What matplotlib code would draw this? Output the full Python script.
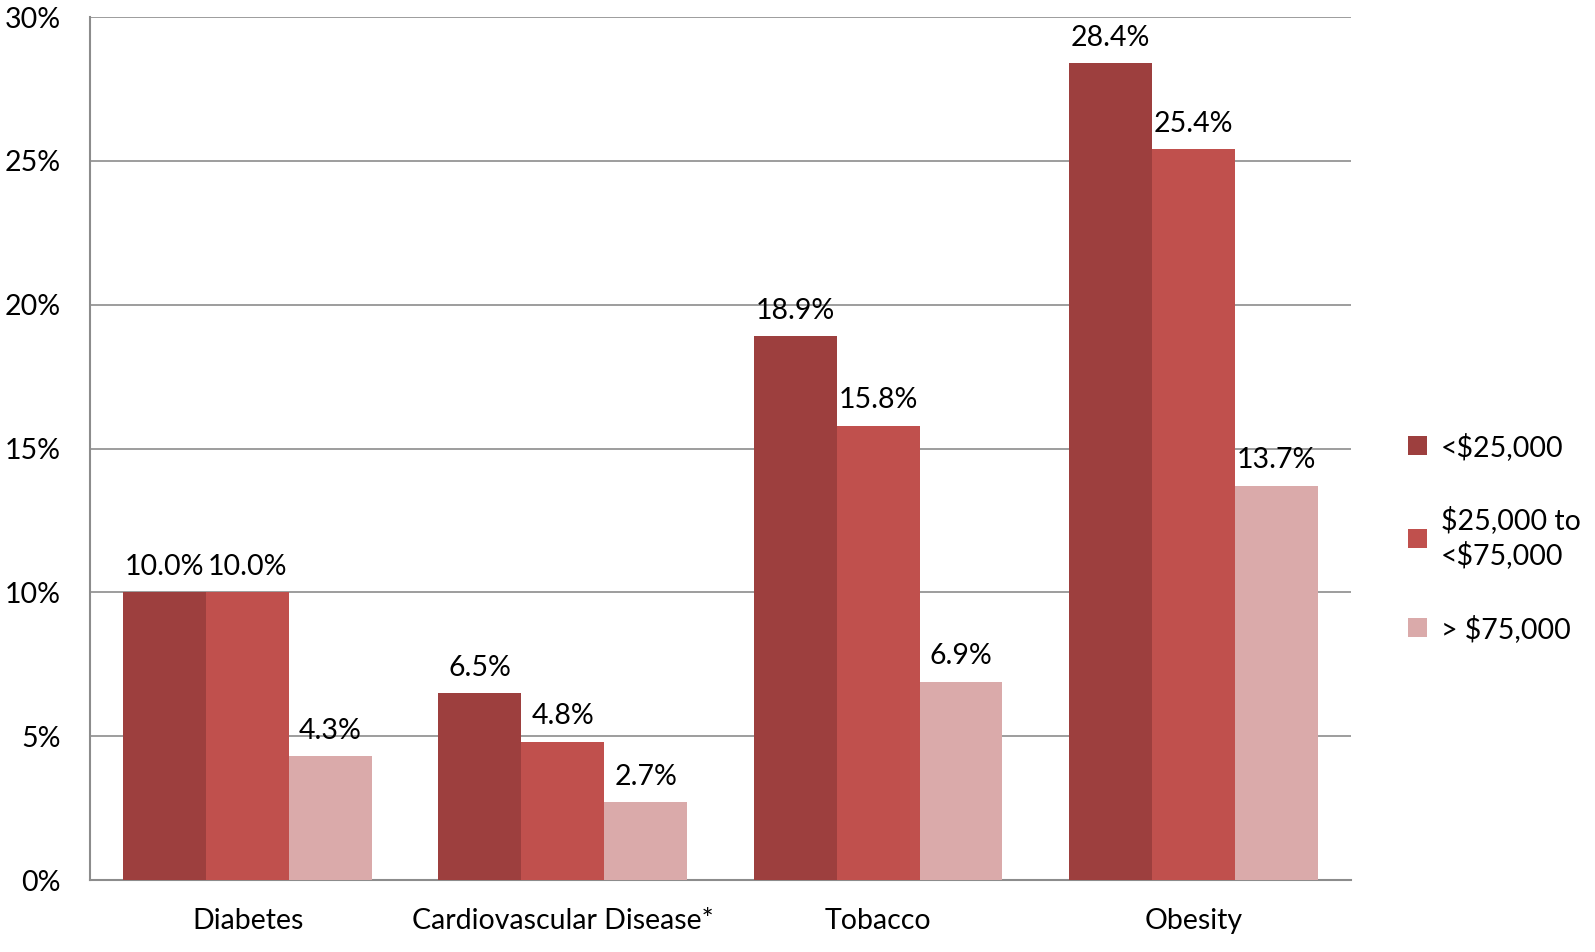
import matplotlib.pyplot as plt
import numpy as np

plt.rcParams['font.family'] = ['Lato', 'DejaVu Sans']

categories = ['Diabetes', 'Cardiovascular Disease*', 'Tobacco', 'Obesity']
series_names = ['<$25,000', '$25,000 to\n<$75,000', '> $75,000']
low_income = [10.0, 6.5, 18.9, 28.4]
mid_income = [10.0, 4.8, 15.8, 25.4]
high_income = [4.3, 2.7, 6.9, 13.7]
colors = ['#9D3F3E', '#C0504D', '#DAAAAA']

fs = 20.5

fig = plt.figure(figsize=(15.95, 9.52), dpi=100)
ax = fig.add_axes([0.0564, 0.0756, 0.7906, 0.9064])

x = np.arange(len(categories))
width = 0.263
for i, (vals, name) in enumerate(zip([low_income, mid_income, high_income], series_names)):
    bars = ax.bar(x + (i - 1) * width, vals, width, color=colors[i], label=name, zorder=3)
    ax.bar_label(bars, labels=[f'{v:.1f}%' for v in vals], padding=9, fontsize=fs)

ax.set_xlim(-0.5, len(categories) - 0.5)
ax.set_ylim(0, 30)
ax.set_yticks(range(0, 31, 5))
ax.set_yticklabels([f'{t}%' for t in range(0, 31, 5)])
ax.set_xticks(x)
ax.set_xticklabels(categories)
ax.tick_params(axis='both', length=0, labelsize=fs)
ax.tick_params(axis='x', pad=20)
ax.tick_params(axis='y', pad=21)

ax.grid(axis='y', color='#8C8C8C', linewidth=1.2, zorder=0)
for s in ['top', 'right']:
    ax.spines[s].set_visible(False)
for s in ['left', 'bottom']:
    ax.spines[s].set_color('#8C8C8C')
    ax.spines[s].set_linewidth(1.5)

leg = fig.legend(loc='center left', bbox_to_anchor=(0.874, 0.435), frameon=False,
                 fontsize=fs, handlelength=0.65, handleheight=0.65, handletextpad=0.5,
                 labelspacing=1.6, borderpad=0)
for t in leg.get_texts():
    t.set_linespacing(1.3)

fig.savefig('out.png', dpi=100)
